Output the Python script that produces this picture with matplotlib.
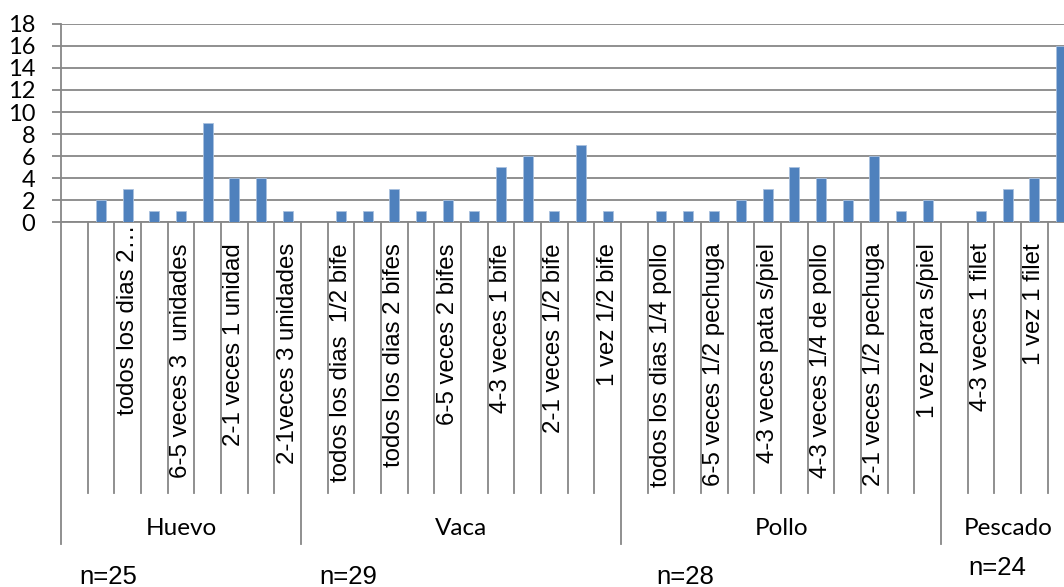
import matplotlib
matplotlib.use("Agg")
import matplotlib.pyplot as plt
from matplotlib.transforms import blended_transform_factory

# ---- data ----
groups = ["Huevo", "Vaca", "Pollo", "Pescado"]
group_n = ["n=25", "n=29", "n=28", "n=24"]

huevo_labels = ["", "", "todos los dias 2…", "", "6-5 veces 3  unidades", "",
                "2-1 veces 1 unidad", "", "2-1veces 3 unidades"]
huevo_values = [0, 2, 3, 1, 1, 9, 4, 4, 1]

vaca_labels = ["", "todos los dias  1/2 bife", "", "todos los dias 2 bifes", "",
               "6-5 veces 2 bifes", "", "4-3 veces 1 bife", "", "2-1 veces 1/2 bife",
               "", "1 vez 1/2 bife"]
vaca_values = [0, 1, 1, 3, 1, 2, 1, 5, 6, 1, 7, 1]

pollo_labels = ["", "todos los dias 1/4 pollo", "", "6-5 veces 1/2 pechuga", "",
                "4-3 veces pata s/piel", "", "4-3 veces 1/4 de pollo", "",
                "2-1 veces 1/2 pechuga", "", "1 vez para s/piel"]
pollo_values = [0, 1, 1, 1, 2, 3, 5, 4, 2, 6, 1, 2]

pescado_labels = ["", "4-3 veces 1 filet", "", "1 vez 1 filet", ""]
pescado_values = [0, 1, 3, 4, 16]

yticks = list(range(0, 19, 2))

group_labels = [huevo_labels, vaca_labels, pollo_labels, pescado_labels]
group_values = [huevo_values, vaca_values, pollo_values, pescado_values]

# ---- figure ----
W, H = 1064, 587
fig = plt.figure(figsize=(W / 100, H / 100), dpi=100)
ax_left, ax_right, ax_top, ax_bot = 61, 1074.5, 24, 222
ax = fig.add_axes([ax_left / W, 1 - ax_bot / H, (ax_right - ax_left) / W, (ax_bot - ax_top) / H])

labels = [l for g in group_labels for l in g]
values = [v for g in group_values for v in g]
x = list(range(len(values)))

GRID = "#878787"
ax.bar(x, values, width=0.375, color="#4F81BD", edgecolor="#A9C1DF",
       linewidth=0.6, zorder=3)
ax.set_xlim(-0.5, len(values) - 0.5)
ax.set_ylim(0, 18)
ax.set_yticks(yticks)
ax.yaxis.grid(True, color=GRID, linewidth=1.3)
ax.set_axisbelow(True)
ax.set_xticks([])
for s in ["top", "right"]:
    ax.spines[s].set_visible(False)
for s in ["left", "bottom"]:
    ax.spines[s].set_color(GRID)
    ax.spines[s].set_linewidth(1.3)
ax.tick_params(axis="y", length=6.5, width=1.3, color=GRID, pad=12,
               labelsize=17)
for t in ax.get_yticklabels():
    t.set_fontfamily("Lato")

trans = blended_transform_factory(ax.transData, ax.transAxes)
axh = ax_bot - ax_top
short_end = -(493 - ax_bot) / axh
long_end = -(544 - ax_bot) / axh
label_top = -(243 - ax_bot) / axh
group_y = -(528 - ax_bot) / axh

# slot separators
starts = []
pos = 0
for g in group_values:
    starts.append(pos)
    pos += len(g)
group_edges = set(starts + [pos])
for b in range(len(values) + 1):
    yend = long_end if b in group_edges else short_end
    ax.plot([b - 0.5, b - 0.5], [0, yend], transform=trans, color=GRID,
            linewidth=1.3, clip_on=False, zorder=1)

# category labels
for i, lab in enumerate(labels):
    if not lab:
        continue
    ytop = label_top if not lab.endswith("…") else -(224 - ax_bot) / axh
    ax.text(i, ytop, lab, rotation=90, ha="center", va="top", transform=trans,
            fontsize=17.3, fontfamily="Liberation Sans", color="black")

# group labels
for st, g, name in zip(starts, group_values, groups):
    cx = st + (len(g) - 1) / 2
    ax.text(cx, group_y, name, ha="center", va="center", transform=trans,
            fontsize=17.5, fontfamily="Lato", color="black")

# n= annotations (separate text boxes)
n_pos = [(108, 577), (348, 577), (685, 577), (997, 568)]
for (px, py), txt in zip(n_pos, group_n):
    fig.text(px / W, 1 - py / H, txt, ha="center", va="center", fontsize=18.5,
             fontfamily="Liberation Sans", color="black")

fig.savefig("out.png", dpi=100)
